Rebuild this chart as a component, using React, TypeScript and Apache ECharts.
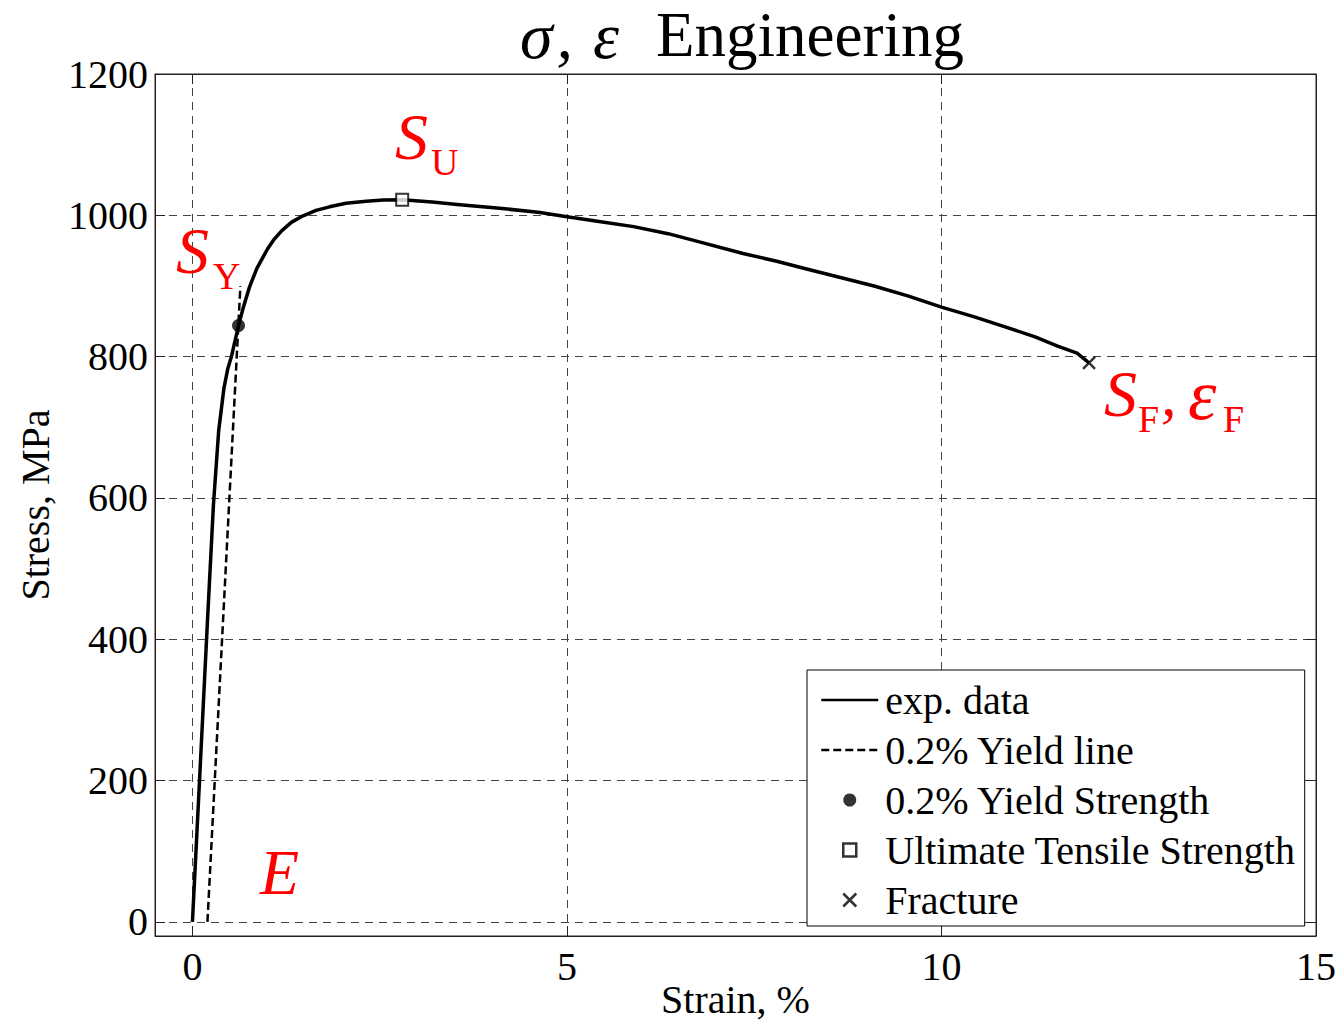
import React, { useEffect, useRef } from "react";
import * as echarts from "echarts";

// ---- data ----
const strainExp = [0, 0.1, 0.2, 0.28, 0.35, 0.42, 0.47, 0.52, 0.57, 0.615, 0.68, 0.76, 0.86, 1.0, 1.09, 1.19, 1.32, 1.47, 1.65, 1.83, 2.05, 2.32, 2.55, 2.8, 3.2, 3.57, 4.1, 4.64, 5.0, 5.45, 5.89, 6.35, 6.78, 7.35, 7.8, 8.2, 8.65, 9.1, 9.55, 10.0, 10.45, 10.88, 11.25, 11.55, 11.81, 11.97];
const stressExp = [0, 212, 425, 590, 695, 755, 782, 800, 823, 844, 870, 898, 925, 952, 966, 978, 990, 999, 1007, 1012, 1017, 1020, 1021.5, 1022, 1019, 1015, 1010, 1004, 998, 991, 984, 974, 962, 946, 935, 924, 912, 900, 886, 870, 856, 841, 828, 815, 805, 791];
const yieldLineStrain = [0.2, 0.64];
const yieldLineStress = [0, 900];
const yieldStrength = [0.615, 844];
const ultimateStrength = [2.8, 1022];
const fracture = [11.97, 791];

const X_MIN = -0.5;
const X_MAX = 15;
const X_STEP = 5;
const Y_MIN = -20;
const Y_MAX = 1200;
const Y_STEP = 200;

const seriesNames = ["exp. data", "0.2% Yield line", "0.2% Yield Strength", "Ultimate Tensile Strength", "Fracture"];

const SERIF = '"Times New Roman", "Liberation Serif", serif';
const RED = "#ff0000";
const SQUARE = "path://M0,0H10V10H0Z";
const CROSS = "path://M0,0L10,10M10,0L0,10";

export default function App() {
  const ref = useRef<HTMLDivElement>(null);

  useEffect(() => {
    document.body.style.margin = "0";
    if (!ref.current) return;
    const chart = echarts.init(ref.current, null, { renderer: "svg" });

    const expData = strainExp.map((x, i) => [x, stressExp[i]]);
    const yieldData = yieldLineStrain.map((x, i) => [x, yieldLineStress[i]]);

    const axisLineStyle = { color: "#222", width: 1 };
    const labelStyle = { fontFamily: SERIF, fontSize: 40, color: "#000" };
    const plain = (v: number) => String(v);

    const redText = (text: string, x: number, y: number, size: number, italic: boolean) => ({
      type: "text",
      x,
      y,
      z: 100,
      style: {
        text,
        fontFamily: SERIF,
        fontSize: size,
        fontStyle: italic ? "italic" : "normal",
        fill: RED,
        align: "left",
        verticalAlign: "middle",
      },
    });

    const noSymbol = { color: "rgba(0,0,0,0)", borderWidth: 0 };
    const greek = { fontFamily: SERIF, fontSize: 66, fontStyle: "italic", color: "#000", lineHeight: 64 };

    const option: any = {
      animation: false,
      backgroundColor: "#fff",
      title: {
        text: "{s|σ}{c|,}{e|ε}{t|Engineering}",
        left: 520,
        top: 3,
        padding: 0,
        textStyle: {
          fontFamily: SERIF,
          fontSize: 63,
          fontWeight: "normal",
          color: "#000",
          lineHeight: 64,
          rich: {
            s: { ...greek, padding: [0, 4, 0, 0] },
            c: { ...greek, padding: [0, 20, 0, 0] },
            e: { ...greek, padding: [0, 37, 0, 0] },
            t: { fontFamily: SERIF, fontSize: 63, color: "#000", lineHeight: 64 },
          },
        },
      },
      grid: {
        left: 155,
        right: 26,
        top: 74,
        bottom: 91,
        show: true,
        borderColor: "#222",
        borderWidth: 1,
        backgroundColor: "transparent",
        containLabel: false,
        outerBoundsMode: "none",
      },
      legend: {
        left: 807,
        top: 670,
        orient: "vertical",
        padding: [10, 9, 6, 13],
        itemGap: 10,
        itemWidth: 57,
        itemHeight: 13,
        symbolKeepAspect: true,
        backgroundColor: "#fff",
        borderColor: "#000",
        borderWidth: 1,
        borderRadius: 0,
        selectedMode: false,
        z: 20,
        textStyle: { fontFamily: SERIF, fontSize: 40, color: "#000", lineHeight: 40, padding: [0, 0, 0, 2] },
        data: [
          { name: seriesNames[0], itemStyle: noSymbol, lineStyle: { color: "#000", width: 2.5, type: "solid" } },
          { name: seriesNames[1], itemStyle: noSymbol, lineStyle: { color: "#000", width: 2.5, type: [8, 4] } },
          { name: seriesNames[2], itemStyle: { color: "#000", borderWidth: 0 } },
          { name: seriesNames[3], itemStyle: { color: "#fff", borderColor: "#000", borderWidth: 2.5 } },
          { name: seriesNames[4], itemStyle: { color: "rgba(0,0,0,0)", borderColor: "#000", borderWidth: 2.5 } },
        ],
      },
      xAxis: [
        {
          type: "value",
          position: "bottom",
          min: X_MIN,
          max: X_MAX,
          minInterval: X_STEP,
          maxInterval: X_STEP,
          name: "Strain, %",
          nameLocation: "middle",
          nameGap: 43,
          nameMoveOverlap: false,
          nameTextStyle: { ...labelStyle, lineHeight: 40 },
          axisLine: { show: true, onZero: false, lineStyle: axisLineStyle },
          axisTick: { show: true, inside: true, length: 10, lineStyle: axisLineStyle },
          axisLabel: { ...labelStyle, margin: 10, showMinLabel: false, lineHeight: 40, formatter: plain },
          splitLine: { show: true, lineStyle: { color: "#444", width: 1, type: [8, 6] } },
        },
        {
          type: "value",
          position: "top",
          min: X_MIN,
          max: X_MAX,
          minInterval: X_STEP,
          maxInterval: X_STEP,
          axisLine: { show: true, onZero: false, lineStyle: axisLineStyle },
          axisTick: { show: true, inside: true, length: 10, lineStyle: axisLineStyle },
          axisLabel: { show: false },
          splitLine: { show: false },
        },
      ],
      yAxis: [
        {
          type: "value",
          position: "left",
          min: Y_MIN,
          max: Y_MAX,
          minInterval: Y_STEP,
          maxInterval: Y_STEP,
          name: "Stress, MPa",
          nameLocation: "middle",
          nameGap: 100,
          nameRotate: 90,
          nameMoveOverlap: false,
          nameTextStyle: { ...labelStyle, lineHeight: 40 },
          axisLine: { show: true, onZero: false, lineStyle: axisLineStyle },
          axisTick: { show: true, inside: true, length: 10, lineStyle: axisLineStyle },
          axisLabel: { ...labelStyle, margin: 7, showMinLabel: false, formatter: plain },
          splitLine: { show: true, lineStyle: { color: "#444", width: 1, type: [8, 6] } },
        },
        {
          type: "value",
          position: "right",
          min: Y_MIN,
          max: Y_MAX,
          minInterval: Y_STEP,
          maxInterval: Y_STEP,
          axisLine: { show: true, onZero: false, lineStyle: axisLineStyle },
          axisTick: { show: true, inside: true, length: 10, lineStyle: axisLineStyle },
          axisLabel: { show: false },
          splitLine: { show: false },
        },
      ],
      series: [
        {
          name: seriesNames[0],
          type: "line",
          data: expData,
          symbol: "none",
          lineStyle: { color: "#000", width: 3.5, join: "round" },
          itemStyle: { color: "#000" },
          z: 3,
        },
        {
          name: seriesNames[1],
          type: "line",
          data: yieldData,
          symbol: "none",
          lineStyle: { color: "#000", width: 2.5, type: [8, 4] },
          itemStyle: { color: "#000" },
          z: 2,
        },
        {
          name: seriesNames[2],
          type: "scatter",
          data: [yieldStrength],
          symbol: "circle",
          symbolSize: 13,
          itemStyle: { color: "#000" },
          z: 5,
        },
        {
          name: seriesNames[3],
          type: "scatter",
          data: [ultimateStrength],
          symbol: SQUARE,
          symbolSize: 12,
          itemStyle: { color: "#fff", borderColor: "#000", borderWidth: 2 },
          z: 5,
        },
        {
          name: seriesNames[4],
          type: "scatter",
          data: [fracture],
          symbol: CROSS,
          symbolSize: 12,
          itemStyle: { color: "rgba(0,0,0,0)", borderColor: "#000", borderWidth: 2.5 },
          z: 5,
        },
      ],
      graphic: [
        redText("S", 176, 250, 66, true),
        redText("Y", 213, 276, 38, false),
        redText("S", 395, 136, 66, true),
        redText("U", 431, 162, 38, false),
        redText("E", 260, 872, 64, true),
        redText("S", 1104, 393, 66, true),
        redText("F", 1138, 419, 38, false),
        redText(",", 1161, 394, 62, true),
        redText("ε", 1188, 395, 72, true),
        redText("F", 1223, 419, 38, false),
      ],
    };

    chart.setOption(option);
    return () => chart.dispose();
  }, []);

  return <div ref={ref} style={{ width: 1342, height: 1027 }} />;
}
